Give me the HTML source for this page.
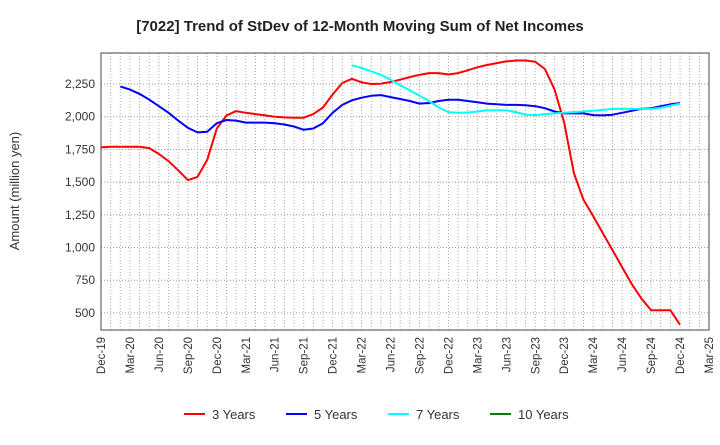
<!DOCTYPE html>
<html><head><meta charset="utf-8"><style>
body{margin:0;background:#fff;font-family:"Liberation Sans",sans-serif}
svg text{font-family:"Liberation Sans",sans-serif}
</style></head><body>
<svg id="c" width="720" height="440" xmlns="http://www.w3.org/2000/svg">
<text x="360" y="31" text-anchor="middle" font-size="15" font-weight="bold" fill="#222">[7022]  Trend of StDev of 12-Month Moving Sum of Net Incomes</text>
<text transform="translate(19,191) rotate(-90)" text-anchor="middle" font-size="13" fill="#333">Amount (million yen)</text>
<g id="grid"></g><g id="ticks"></g><g id="series"></g>
<rect x="101" y="53" width="608" height="277" fill="none" stroke="#444" stroke-width="1"/>
<g id="legend"></g>
</svg>
<script>
const yTicks=[500,750,1000,1250,1500,1750,2000,2250];
const xLabels=["Dec-19","Mar-20","Jun-20","Sep-20","Dec-20","Mar-21","Jun-21","Sep-21","Dec-21","Mar-22","Jun-22","Sep-22","Dec-22","Mar-23","Jun-23","Sep-23","Dec-23","Mar-24","Jun-24","Sep-24","Dec-24","Mar-25"];
const names=["3 Years","5 Years","7 Years","10 Years"];
const colors=["#ff0000","#0000ff","#00ffff","#008000"];
const starts=[0,2,26,0];
const s3=[1765,1770,1770,1770,1770,1760,1715,1660,1590,1515,1540,1670,1910,2010,2043,2030,2020,2010,2000,1995,1992,1992,2020,2070,2170,2258,2290,2263,2250,2252,2265,2283,2303,2320,2333,2333,2323,2333,2355,2378,2395,2410,2423,2430,2430,2420,2365,2207,1955,1568,1365,1240,1110,980,850,720,610,520,520,520,410];
const s5=[2232,2207,2174,2130,2080,2030,1970,1915,1880,1885,1950,1975,1970,1955,1955,1955,1950,1940,1925,1900,1910,1950,2030,2090,2125,2145,2160,2165,2150,2135,2120,2100,2105,2120,2130,2130,2120,2110,2100,2095,2090,2090,2088,2080,2065,2040,2025,2025,2025,2012,2010,2015,2030,2045,2060,2065,2080,2095,2105];
const s7=[2393,2372,2347,2320,2283,2240,2202,2160,2120,2070,2035,2030,2032,2040,2050,2050,2048,2035,2015,2012,2020,2025,2030,2035,2040,2045,2052,2060,2060,2060,2060,2060,2068,2085,2100];
const s10=[];
const series=[s3,s5,s7,s10];
const L=101,R=709,T=53,B=330,NM=63;
const X=m=>L+m*(R-L)/NM;
const Y=v=>84+(2250-v)*32.7/250;
const NS="http://www.w3.org/2000/svg";
function mk(tag,attrs,parent){const e=document.createElementNS(NS,tag);for(const k in attrs)e.setAttribute(k,attrs[k]);parent.appendChild(e);return e;}
const grid=document.getElementById('grid'),ticks=document.getElementById('ticks'),ser=document.getElementById('series'),leg=document.getElementById('legend');
for(let m=1;m<NM;m++){const l=mk('line',{x1:X(m),x2:X(m),y1:T,y2:B,stroke:'#aaa','stroke-dasharray':'1,2','stroke-width':1},grid);

}
yTicks.forEach(v=>{const l=mk('line',{x1:L,x2:R,y1:Y(v),y2:Y(v),stroke:'#999','stroke-dasharray':'1,2','stroke-width':1},grid);


const t=mk('text',{x:L-6,y:Y(v)+4,'text-anchor':'end','font-size':12,fill:'#333'},ticks);


t.textContent=v.toLocaleString('en-US');});
xLabels.forEach((s,i)=>{const x=X(i*3);const t=mk('text',{transform:`translate(${x+4},337) rotate(-90)`,'text-anchor':'end','font-size':11.5,fill:'#333'},ticks);


t.textContent=s;});
series.forEach((d,i)=>{if(!d.length)return;const pts=d.map((v,j)=>X(starts[i]+j).toFixed(1)+','+Y(v).toFixed(1)).join(' ');
const p=mk('polyline',{points:pts,fill:'none',stroke:colors[i],'stroke-width':2,'stroke-linejoin':'round'},ser);

});
const lx=[184,286,388,490];
names.forEach((n,i)=>{const g=mk('g',{},leg);


mk('line',{x1:lx[i],x2:lx[i]+21,y1:414,y2:414,stroke:colors[i],'stroke-width':2},g);
const t=mk('text',{x:lx[i]+28,y:419,'font-size':13,fill:'#333'},g);t.textContent=n;});
</script>
</body></html>
